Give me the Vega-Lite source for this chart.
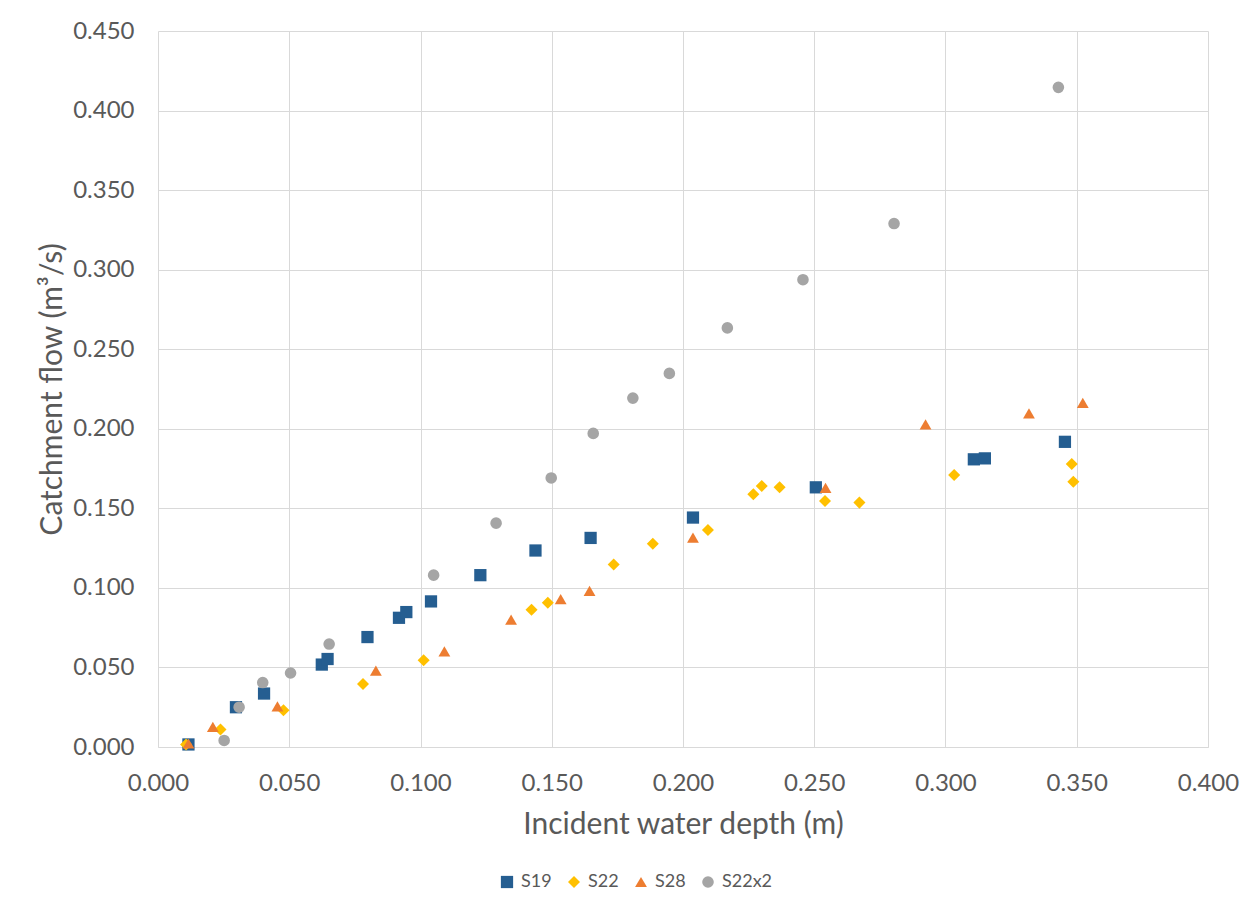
{
  "$schema": "https://vega.github.io/schema/vega-lite/v6.json",
  "width": 1050,
  "height": 716,
  "autosize": {"type": "none"},
  "padding": {"left": 158, "top": 31, "right": 47, "bottom": 162},
  "background": "white",
  "config": {
    "font": "Lato",
    "view": {"stroke": null},
    "axis": {
      "gridColor": "#D9D9D9",
      "gridWidth": 1,
      "domainColor": "#D9D9D9",
      "ticks": false,
      "labelColor": "#595959",
      "labelFont": "Lato",
      "labelFontSize": 24,
      "labelFlush": false,
      "titleColor": "#595959",
      "titleFont": "Lato",
      "titleFontSize": 30,
      "titleFontWeight": "normal"
    }
  },
  "data": {
    "values": [
      {"series": "S19", "depth": 0.0116, "flow": 0.0016},
      {"series": "S19", "depth": 0.0297, "flow": 0.0250},
      {"series": "S19", "depth": 0.0404, "flow": 0.0336},
      {"series": "S19", "depth": 0.0624, "flow": 0.0518},
      {"series": "S19", "depth": 0.0646, "flow": 0.0553},
      {"series": "S19", "depth": 0.0798, "flow": 0.0691},
      {"series": "S19", "depth": 0.0918, "flow": 0.0812},
      {"series": "S19", "depth": 0.0946, "flow": 0.0848},
      {"series": "S19", "depth": 0.1040, "flow": 0.0915},
      {"series": "S19", "depth": 0.1228, "flow": 0.1080},
      {"series": "S19", "depth": 0.1438, "flow": 0.1235},
      {"series": "S19", "depth": 0.1648, "flow": 0.1314},
      {"series": "S19", "depth": 0.2038, "flow": 0.1442},
      {"series": "S19", "depth": 0.2506, "flow": 0.1632},
      {"series": "S19", "depth": 0.3108, "flow": 0.1808},
      {"series": "S19", "depth": 0.3150, "flow": 0.1814},
      {"series": "S19", "depth": 0.3455, "flow": 0.1918},
      {"series": "S22", "depth": 0.0107, "flow": 0.0016},
      {"series": "S22", "depth": 0.0238, "flow": 0.0110},
      {"series": "S22", "depth": 0.0478, "flow": 0.0231},
      {"series": "S22", "depth": 0.0781, "flow": 0.0396},
      {"series": "S22", "depth": 0.1012, "flow": 0.0545},
      {"series": "S22", "depth": 0.1423, "flow": 0.0863},
      {"series": "S22", "depth": 0.1485, "flow": 0.0907},
      {"series": "S22", "depth": 0.1736, "flow": 0.1147},
      {"series": "S22", "depth": 0.1885, "flow": 0.1277},
      {"series": "S22", "depth": 0.2095, "flow": 0.1364},
      {"series": "S22", "depth": 0.2268, "flow": 0.1588},
      {"series": "S22", "depth": 0.2300, "flow": 0.1641},
      {"series": "S22", "depth": 0.2368, "flow": 0.1632},
      {"series": "S22", "depth": 0.2541, "flow": 0.1546},
      {"series": "S22", "depth": 0.2672, "flow": 0.1536},
      {"series": "S22", "depth": 0.3033, "flow": 0.1710},
      {"series": "S22", "depth": 0.3481, "flow": 0.1779},
      {"series": "S22", "depth": 0.3487, "flow": 0.1667},
      {"series": "S28", "depth": 0.0116, "flow": 0.0022},
      {"series": "S28", "depth": 0.0209, "flow": 0.0127},
      {"series": "S28", "depth": 0.0455, "flow": 0.0256},
      {"series": "S28", "depth": 0.0830, "flow": 0.0480},
      {"series": "S28", "depth": 0.1091, "flow": 0.0601},
      {"series": "S28", "depth": 0.1345, "flow": 0.0800},
      {"series": "S28", "depth": 0.1534, "flow": 0.0930},
      {"series": "S28", "depth": 0.1644, "flow": 0.0982},
      {"series": "S28", "depth": 0.2038, "flow": 0.1316},
      {"series": "S28", "depth": 0.2543, "flow": 0.1628},
      {"series": "S28", "depth": 0.2924, "flow": 0.2028},
      {"series": "S28", "depth": 0.3318, "flow": 0.2097},
      {"series": "S28", "depth": 0.3523, "flow": 0.2163},
      {"series": "S22x2", "depth": 0.0252, "flow": 0.0041},
      {"series": "S22x2", "depth": 0.0309, "flow": 0.0250},
      {"series": "S22x2", "depth": 0.0399, "flow": 0.0405},
      {"series": "S22x2", "depth": 0.0505, "flow": 0.0465},
      {"series": "S22x2", "depth": 0.0652, "flow": 0.0647},
      {"series": "S22x2", "depth": 0.1050, "flow": 0.1080},
      {"series": "S22x2", "depth": 0.1288, "flow": 0.1407},
      {"series": "S22x2", "depth": 0.1498, "flow": 0.1691},
      {"series": "S22x2", "depth": 0.1658, "flow": 0.1971},
      {"series": "S22x2", "depth": 0.1809, "flow": 0.2193},
      {"series": "S22x2", "depth": 0.1948, "flow": 0.2348},
      {"series": "S22x2", "depth": 0.2169, "flow": 0.2634},
      {"series": "S22x2", "depth": 0.2457, "flow": 0.2937},
      {"series": "S22x2", "depth": 0.2804, "flow": 0.3290},
      {"series": "S22x2", "depth": 0.3430, "flow": 0.4146}
    ]
  },
  "mark": {"type": "point", "filled": true, "opacity": 1},
  "encoding": {
    "x": {
      "field": "depth",
      "type": "quantitative",
      "scale": {"domain": [0, 0.4], "nice": false, "zero": false},
      "axis": {
        "values": [0, 0.05, 0.1, 0.15, 0.2, 0.25, 0.3, 0.35, 0.4],
        "format": ".3f",
        "labelPadding": 24,
        "title": "Incident water depth (m)",
        "titlePadding": 14
      }
    },
    "y": {
      "field": "flow",
      "type": "quantitative",
      "scale": {"domain": [0, 0.45], "nice": false, "zero": false},
      "axis": {
        "values": [0, 0.05, 0.1, 0.15, 0.2, 0.25, 0.3, 0.35, 0.4, 0.45],
        "format": ".3f",
        "labelPadding": 24,
        "title": "Catchment flow (m³/s)",
        "titleX": -106,
        "titleY": 358,
        "titleBaseline": "middle",
        "domain": false
      }
    },
    "color": {
      "field": "series",
      "type": "nominal",
      "scale": {"domain": ["S19", "S22", "S28", "S22x2"], "range": ["#255E91", "#FFC000", "#ED7D31", "#A5A5A5"]},
      "legend": {
        "title": null,
        "orient": "none",
        "direction": "horizontal",
        "legendX": 340,
        "legendY": 842,
        "labelFontSize": 18,
        "labelColor": "#595959",
        "labelFont": "Lato",
        "symbolSize": 130,
        "columnPadding": 13,
        "labelOffset": 5
      }
    },
    "shape": {
      "field": "series",
      "type": "nominal",
      "scale": {"domain": ["S19", "S22", "S28", "S22x2"], "range": ["square", "diamond", "triangle-up", "circle"]}
    },
    "size": {
      "field": "series",
      "type": "nominal",
      "scale": {"domain": ["S19", "S22", "S28", "S22x2"], "range": [150, 135, 170, 125]},
      "legend": null
    }
  }
}
